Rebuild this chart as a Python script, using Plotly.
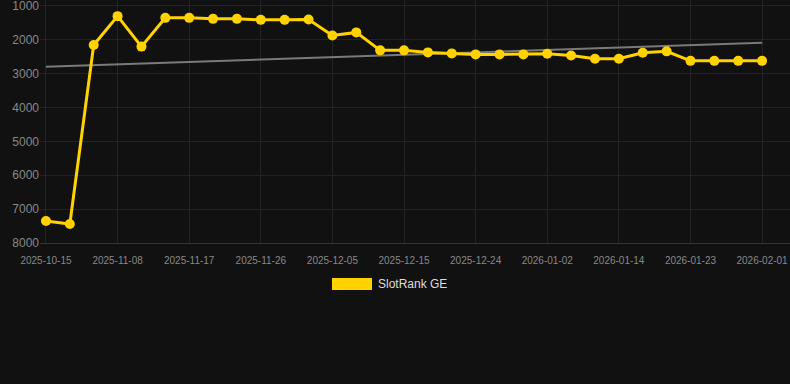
import numpy as np
import plotly.graph_objects as go

dates = [
    "2025-10-15", "2025-10-23", "2025-10-31", "2025-11-08", "2025-11-11", "2025-11-14",
    "2025-11-17", "2025-11-20", "2025-11-23", "2025-11-26", "2025-11-29", "2025-12-02",
    "2025-12-05", "2025-12-08", "2025-12-12", "2025-12-15", "2025-12-18", "2025-12-21",
    "2025-12-24", "2025-12-27", "2025-12-30", "2026-01-02", "2026-01-06", "2026-01-10",
    "2026-01-14", "2026-01-17", "2026-01-20", "2026-01-23", "2026-01-26", "2026-01-29",
    "2026-02-01",
]
rank = [
    7350, 7440, 2150, 1300, 2200, 1350, 1350, 1380, 1380, 1410, 1410, 1400,
    1870, 1780, 2310, 2310, 2370, 2400, 2430, 2430, 2430, 2410, 2460, 2560,
    2560, 2380, 2340, 2620, 2620, 2620, 2620,
]
tick_labels = dates[::3]
y_ticks = [1000, 2000, 3000, 4000, 5000, 6000, 7000, 8000]
series_name = "SlotRank GE"

idx = np.arange(len(rank))
slope, intercept = np.polyfit(idx, rank, 1)
trend = slope * idx + intercept

gold = "#FFD200"
fig = go.Figure()
fig.add_trace(go.Scatter(
    x=dates, y=trend, mode="lines",
    line=dict(color="#7a7a7a", width=2),
    showlegend=False, hoverinfo="skip",
))
fig.add_trace(go.Scatter(
    x=dates, y=rank, mode="lines+markers", name=series_name,
    line=dict(color=gold, width=3),
    marker=dict(color=gold, size=10),
    showlegend=False,
))

PT, PB, PL, PR = 0, 243, 40, 790
pw, ph = PR - PL, PB - PT
fig.add_shape(type="rect", xref="paper", yref="paper",
              x0=(332 - PL) / pw, x1=(372 - PL) / pw,
              y0=-(290 - PB) / ph, y1=-(278 - PB) / ph,
              fillcolor=gold, line=dict(width=0))
fig.add_annotation(text=series_name, xref="paper", yref="paper",
                   x=(376 - PL) / pw, y=-(284 - PB) / ph,
                   xanchor="left", yanchor="middle", showarrow=False,
                   font=dict(color="#dddddd", size=12))

fig.update_layout(
    width=790, height=384,
    margin=dict(l=PL, r=790 - PR, t=PT, b=384 - PB),
    paper_bgcolor="#111111", plot_bgcolor="#111111",
    font=dict(family="Liberation Sans, Arial, sans-serif", color="#888888"),
    xaxis=dict(
        type="category", tickmode="array", tickvals=tick_labels, ticktext=tick_labels,
        range=[-0.25, len(dates) - 1 + 1.17],
        showgrid=True, gridcolor="#232323", gridwidth=1,
        showline=True, linecolor="#333333", linewidth=1,
        tickfont=dict(size=10, color="#888888"), ticks="", zeroline=False,
        ticklabeloverflow="allow", ticklabelstandoff=8,
    ),
    yaxis=dict(
        range=[8000, 823], tickvals=y_ticks, ticktext=[str(v) for v in y_ticks],
        showgrid=True, gridcolor="#232323", gridwidth=1,
        tickfont=dict(size=12, color="#888888"), ticks="", zeroline=False,
        ticklabeloverflow="allow",
    ),
)

fig.write_html("out.html", config={"displayModeBar": False},
               post_script="document.body.style.margin='0px';document.body.style.background='#111111';")
